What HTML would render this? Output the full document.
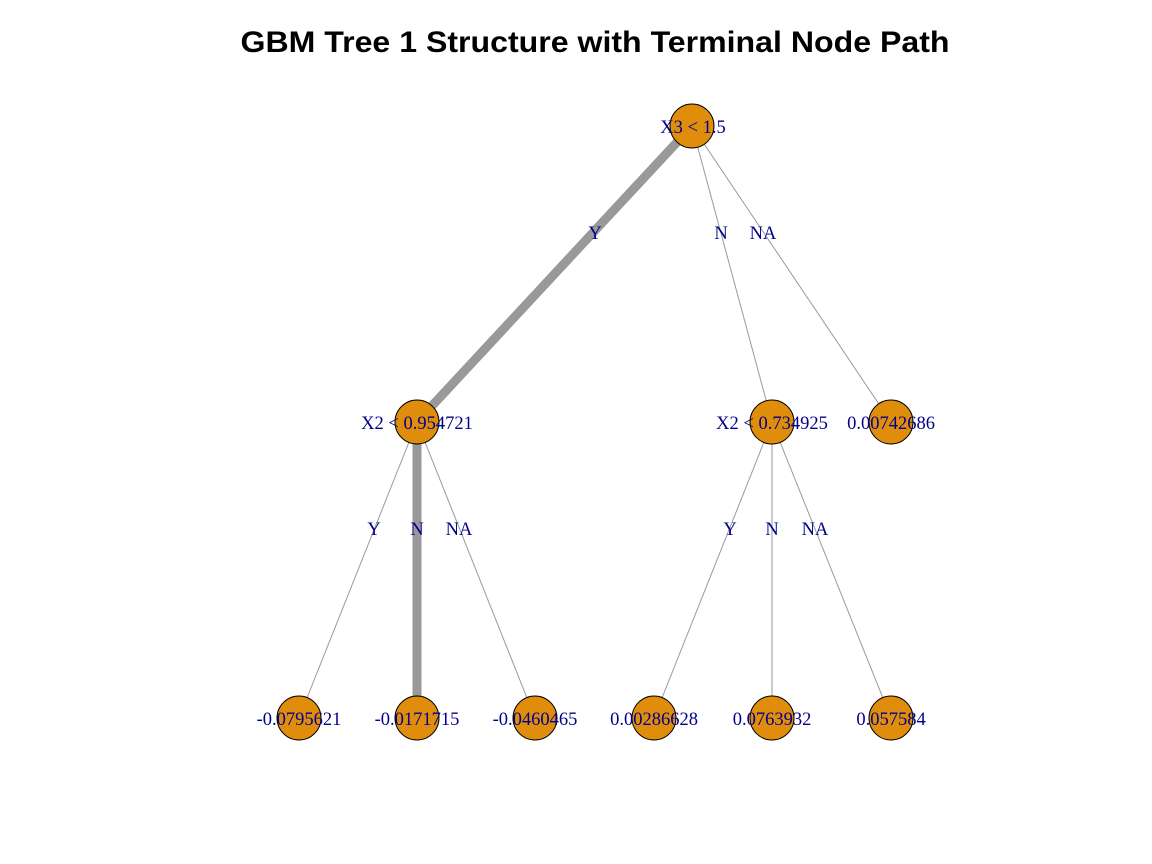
<!DOCTYPE html>
<html><head><meta charset="utf-8"><style>
html,body{margin:0;padding:0;background:#fff;}
svg{display:block;}
</style></head><body>
<svg width="1152" height="864" viewBox="0 0 1152 864" xmlns="http://www.w3.org/2000/svg">
<rect width="1152" height="864" fill="#fff"/>
<text x="595" y="52" text-anchor="middle" font-family="Liberation Sans, sans-serif" font-weight="bold" font-size="30" fill="#000" textLength="709" lengthAdjust="spacingAndGlyphs">GBM Tree 1 Structure with Terminal Node Path</text>
<g stroke="#999" fill="none">
<line x1="692" y1="126" x2="417" y2="422" stroke-width="9"/>
<line x1="417" y1="422" x2="417" y2="718" stroke-width="9"/>
<line x1="692" y1="126" x2="772" y2="422" stroke-width="1"/>
<line x1="692" y1="126" x2="891" y2="422" stroke-width="1"/>
<line x1="417" y1="422" x2="299" y2="718" stroke-width="1"/>
<line x1="417" y1="422" x2="535" y2="718" stroke-width="1"/>
<line x1="772" y1="422" x2="654" y2="718" stroke-width="1"/>
<line x1="772" y1="422" x2="772" y2="718" stroke-width="1"/>
<line x1="772" y1="422" x2="891" y2="718" stroke-width="1"/>
</g>
<g fill="#E08D0B" stroke="#000" stroke-width="1">
<circle cx="692" cy="126" r="22"/>
<circle cx="417" cy="422" r="22"/>
<circle cx="772" cy="422" r="22"/>
<circle cx="891" cy="422" r="22"/>
<circle cx="299" cy="718" r="22"/>
<circle cx="417" cy="718" r="22"/>
<circle cx="535" cy="718" r="22"/>
<circle cx="654" cy="718" r="22"/>
<circle cx="772" cy="718" r="22"/>
<circle cx="891" cy="718" r="22"/>
</g>
<g font-family="Liberation Serif, serif" font-size="18.5" fill="#00008B" text-anchor="middle">
<text x="693" y="133">X3 &lt; 1.5</text>
<text x="417" y="429">X2 &lt; 0.954721</text>
<text x="772" y="429">X2 &lt; 0.734925</text>
<text x="891" y="429">0.00742686</text>
<text x="299" y="725">-0.0795621</text>
<text x="417" y="725">-0.0171715</text>
<text x="535" y="725">-0.0460465</text>
<text x="654" y="725">0.00286628</text>
<text x="772" y="725">0.0763932</text>
<text x="891" y="725">0.057584</text>
<text x="595" y="239">Y</text>
<text x="721" y="239">N</text>
<text x="763" y="239">NA</text>
<text x="374" y="535">Y</text>
<text x="417" y="535">N</text>
<text x="459" y="535">NA</text>
<text x="730" y="535">Y</text>
<text x="772" y="535">N</text>
<text x="815" y="535">NA</text>
</g>
</svg>
</body></html>
